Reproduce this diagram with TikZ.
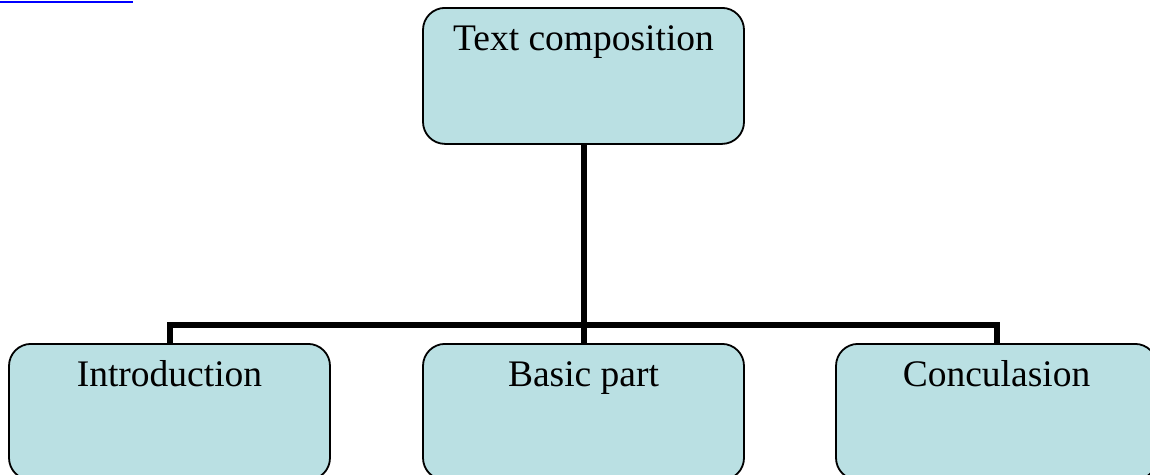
\documentclass[tikz,border=0pt]{standalone}
\usepackage{fontspec}
\setmainfont{Liberation Serif}
\definecolor{boxfill}{RGB}{186,224,227}
\begin{document}
\begin{tikzpicture}[x=1pt,y=-1pt,
  box/.style={draw=black, line width=1.8pt, fill=boxfill, rounded corners=22pt,
    minimum width=321pt, inner xsep=0pt, inner ysep=0pt,
    text height=43pt, text depth=93pt, anchor=north,
    font=\fontsize{37.5}{42}\selectfont},
  conn/.style={draw=black, line width=6pt, line join=miter}]
\clip (0,0) rectangle (1150,474);
\useasboundingbox (0,0) rectangle (1150,474);
\draw[blue, line width=2.2pt] (0,2) -- (133,2);
\node[box] (top) at (583.5,7) {Text composition};
\node[box] (intro) at (169.5,343) {Introduction};
\node[box] (basic) at (583.5,343) {Basic part};
\node[box] (conc) at (996.5,343) {Conculasion};
\coordinate (bus) at (583.5,324.5);
\draw[conn] (top.south) -- (basic.north);
\draw[conn] (intro.north) |- (bus) -| (conc.north);
\end{tikzpicture}
\end{document}
